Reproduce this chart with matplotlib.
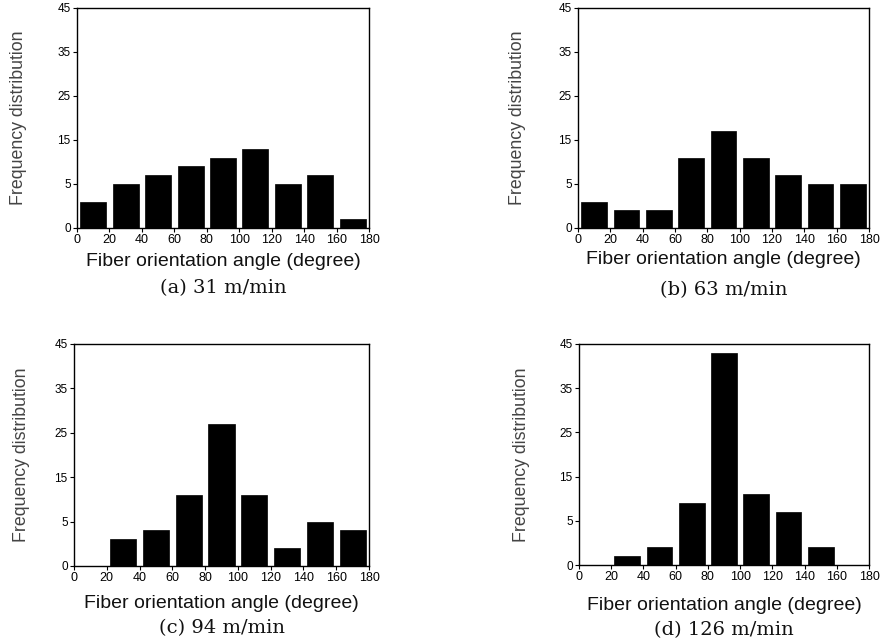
import matplotlib
matplotlib.use("Agg")
import matplotlib.pyplot as plt

# Bin centres of fibre orientation angle (degree), 20-degree bins
angle_centers = [10, 30, 50, 70, 90, 110, 130, 150, 170]
x_ticks = [0, 20, 40, 60, 80, 100, 120, 140, 160, 180]
y_tick_pos = [0, 5, 10, 15, 20, 25]
y_tick_labels = ["0", "5", "15", "25", "35", "45"]

# Frequency counts per bin for each drawing speed
freq_31 = [3, 5, 6, 7, 8, 9, 5, 6, 1]
freq_63 = [3, 2, 2, 8, 11, 8, 6, 5, 5]
freq_94 = [0, 3, 4, 8, 16, 8, 2, 5, 4]
freq_126 = [0, 1, 2, 7, 24, 8, 6, 2, 0]

captions = ["(a) 31 m/min", "(b) 63 m/min", "(c) 94 m/min", "(d) 126 m/min"]
series = [freq_31, freq_63, freq_94, freq_126]

W, H = 882, 642
fig = plt.figure(figsize=(W / 100, H / 100), dpi=100)
fig.patch.set_facecolor("white")

sans = ["Liberation Sans", "DejaVu Sans"]
serif = ["DejaVu Serif"]

# panel boxes in pixels: left, right, top, bottom
boxes = [(77, 369, 8, 228), (578, 869, 8, 228),
         (74, 369, 344, 566), (579, 869, 344, 565)]
xlabel_y = [262, 259, 603, 605]
caption_y = [288, 290, 628, 630]
ylabel_x = [19, 518, 22, 522]

for i, (vals, cap) in enumerate(zip(series, captions)):
    l, r, t, b = boxes[i]
    ax = fig.add_axes([l / W, 1 - b / H, (r - l) / W, (b - t) / H])
    ax.bar(angle_centers, vals, width=16, color="black", edgecolor="black", linewidth=0.5)
    ax.set_xlim(0, 180)
    ax.set_ylim(0, 25)
    ax.set_xticks(x_ticks)
    ax.set_xticklabels([str(v) for v in x_ticks], family=sans, fontsize=9)
    ax.set_yticks(y_tick_pos)
    ax.set_yticklabels(y_tick_labels, family=sans, fontsize=8.5)
    ax.tick_params(direction="out", length=3, width=0.8, pad=1.5, colors="black")
    ax.tick_params(axis="x", pad=1)
    for sp in ax.spines.values():
        sp.set_linewidth(1.0)
        sp.set_color("black")

    cx = (l + r) / 2
    fig.text(cx / W, 1 - xlabel_y[i] / H, "Fiber orientation angle (degree)",
             ha="center", va="center", family=sans, fontsize=14, color="#111111")
    fig.text(cx / W, 1 - caption_y[i] / H, cap,
             ha="center", va="center", family=serif, fontsize=14, color="#111111")
    fig.text(ylabel_x[i] / W, 1 - ((t + b) / 2) / H, "Frequency distribution",
             ha="center", va="center", rotation=90, family=sans, fontsize=12.8,
             color="#444444")

fig.savefig("out.png", dpi=100, facecolor="white")
